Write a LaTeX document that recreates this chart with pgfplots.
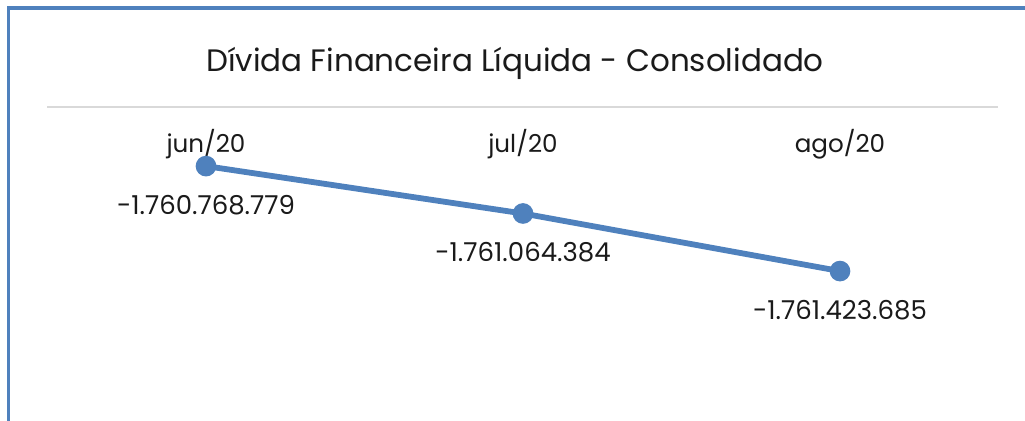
\documentclass[border=0pt]{standalone}
\usepackage{pgfplots}
\pgfplotsset{compat=1.18}
\usepackage{fontspec}
\setmainfont{Poppins}
\definecolor{serie}{HTML}{4F81BD}
\definecolor{grade}{HTML}{D9D9D9}
\definecolor{texto}{HTML}{1A1A1A}

\begin{document}
\begin{tikzpicture}[x=1pt,y=1pt]
\useasboundingbox (0,0) rectangle (512.5,210.5);
% moldura azul (so a parte esquerda e de cima aparece)
\draw[serie, line width=1.6pt] (4.25,0) -- (4.25,206.5) -- (520,206.5);
\node[font=\fontsize{15.5}{18}\selectfont, text=texto] at (257.5,179) {Dívida Financeira Líquida - Consolidado};
\begin{axis}[
    at={(23.75pt,157pt)}, anchor=north west,
    scale only axis, width=475.5pt, height=144.27pt,
    xmin=-0.5, xmax=2.5, ymin=-1762.2, ymax=-1760.4,
    axis line style={draw=none}, tick style={draw=none},
    ytick=\empty,
    xtick={0,1,2}, xticklabels={jun/20,jul/20,ago/20},
    xticklabel pos=upper,
    xticklabel style={anchor=center, yshift=-18.5pt, font=\fontsize{12.3}{14}\selectfont, text=texto},
    clip=false,
]
\draw[grade, line width=1pt] (rel axis cs:0,1) -- (rel axis cs:1,1);
% valores em milhoes de R$
\addplot[serie, line width=2.9pt, mark=*, mark size=3.7pt,
    nodes near coords, point meta=explicit symbolic,
    every node near coord/.style={anchor=center, yshift=-19.5pt, font=\fontsize{13}{15}\selectfont, text=texto}]
    coordinates {
    (0,-1760.768779) [-1.760.768.779]
    (1,-1761.064384) [-1.761.064.384]
    (2,-1761.423685) [-1.761.423.685]
};
\end{axis}
\end{tikzpicture}
\end{document}
